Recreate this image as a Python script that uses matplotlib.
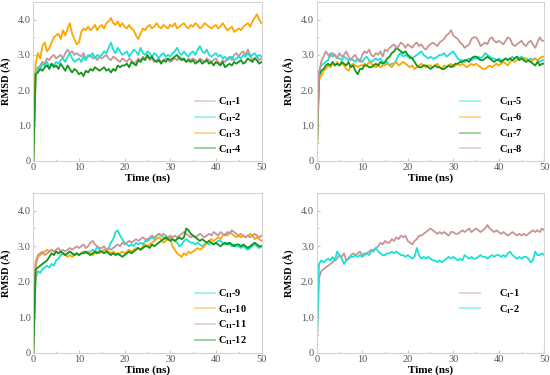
import numpy as np
import matplotlib
matplotlib.use("Agg")
import matplotlib.pyplot as plt

plt.rcParams["font.family"] = ["Liberation Serif", "DejaVu Serif"]
plt.rcParams["mathtext.fontset"] = "custom"
plt.rcParams["mathtext.rm"] = "Liberation Serif"
plt.rcParams["mathtext.bf"] = "Liberation Serif:bold"
plt.rcParams["mathtext.default"] = "bf"

time_ns = np.arange(0, 50.5, 0.5)

# ---- panel 1: C_II-1..4
c2_1 = [0, 2.45, 2.6, 2.7, 2.8, 2.75, 2.9, 2.85, 2.95, 3.0,
        2.9, 2.95, 3.0, 2.9, 3.05, 3.15, 3.05, 3.1, 3.0, 3.05,
        3.0, 2.95, 3.05, 2.9, 2.95, 3.0, 2.9, 2.95, 2.85, 2.95,
        2.9, 2.95, 3.0, 2.9, 2.85, 2.95, 2.9, 2.85, 2.8, 2.9,
        2.85, 2.8, 2.9, 2.85, 2.75, 2.8, 2.9, 2.85, 2.95, 2.9,
        2.95, 2.85, 2.9, 2.8, 2.85, 2.9, 2.8, 2.85, 2.9, 2.85,
        2.8, 2.85, 2.9, 2.85, 2.95, 2.9, 2.85, 2.8, 2.9, 2.85,
        2.9, 2.85, 2.8, 2.9, 2.85, 2.8, 2.9, 2.85, 2.8, 2.85,
        2.9, 2.8, 2.75, 2.85, 2.8, 2.9, 2.95, 2.85, 3.0, 3.05,
        2.95, 3.05, 3.1, 3.0, 3.15, 3.0, 2.85, 2.9, 2.95, 2.85,
        2.9]
c2_2 = [0, 2.5, 2.65, 2.6, 2.75, 2.7, 2.8, 2.65, 2.75, 2.7,
        2.8, 2.75, 2.85, 2.9, 2.8, 2.95, 3.05, 2.9, 2.8, 2.85,
        2.9, 2.8, 2.95, 2.85, 3.0, 2.95, 3.05, 2.9, 3.0, 2.95,
        3.0, 3.1, 3.05, 3.2, 3.35, 3.15, 3.05, 3.2, 3.1, 3.0,
        3.05, 3.1, 2.95, 3.05, 3.15, 3.1, 3.0, 3.2, 3.05, 3.0,
        3.1, 3.05, 2.95, 3.05, 3.0, 2.9, 3.0, 3.05, 2.95, 3.0,
        2.95, 3.05, 3.1, 3.2, 3.05, 3.0, 3.1, 3.0, 2.95, 3.05,
        3.1, 3.0, 3.15, 3.25, 3.1, 3.05, 3.15, 3.0, 2.95, 3.0,
        3.05, 2.95, 3.0, 2.9, 2.95, 2.85, 2.9, 2.95, 2.85, 2.9,
        2.95, 2.9, 3.0, 2.95, 3.05, 2.95, 3.0, 3.05, 2.95, 3.0,
        2.95]
c2_3 = [0, 2.75, 3.05, 2.9, 3.25, 3.35, 3.1, 3.2, 3.35, 3.5,
        3.55, 3.6, 3.45, 3.7, 3.55, 3.75, 3.9, 3.6, 3.45, 3.3,
        3.35, 3.65, 3.75, 3.7, 3.8, 3.7, 3.75, 3.85, 3.7, 3.8,
        3.85, 3.75, 3.9, 3.95, 4.05, 3.9, 3.85, 3.95, 3.8, 3.9,
        3.8, 3.75, 3.85, 3.75, 3.7, 3.55, 3.45, 3.6, 3.75, 3.7,
        3.8, 3.85, 3.75, 3.8, 3.9, 3.8, 3.75, 3.85, 3.8, 3.75,
        3.85, 3.8, 3.9, 3.75, 3.8, 3.85, 3.9, 3.8, 3.75, 3.85,
        3.8, 3.9, 3.85, 3.75, 3.8, 3.9, 3.85, 3.8, 3.75, 3.8,
        3.85, 3.75, 3.8, 3.9, 3.8, 3.7, 3.75, 3.8, 3.65, 3.7,
        3.75, 3.7, 3.8, 3.85, 3.9, 3.8, 3.95, 4.05, 4.15, 4.0,
        3.9]
c2_4 = [0, 2.45, 2.5, 2.6, 2.55, 2.65, 2.7, 2.6, 2.75, 2.65,
        2.7, 2.6, 2.75, 2.65, 2.55, 2.7, 2.6, 2.5, 2.6, 2.55,
        2.45, 2.5, 2.4, 2.55, 2.5, 2.6, 2.55, 2.65, 2.6, 2.55,
        2.6, 2.65, 2.55, 2.6, 2.5, 2.6, 2.55, 2.7, 2.65, 2.7,
        2.7, 2.75, 2.65, 2.8, 2.75, 2.7, 2.85, 2.8, 2.9, 2.85,
        3.0, 2.9, 2.95, 2.85, 2.8, 2.85, 2.75, 2.85, 2.8, 2.9,
        2.85, 2.9, 2.95, 3.0, 2.9, 2.85, 2.9, 2.8, 2.85, 2.8,
        2.85, 2.75, 2.8, 2.85, 2.75, 2.8, 2.85, 2.75, 2.8, 2.7,
        2.8, 2.75, 2.7, 2.8, 2.65, 2.7, 2.75, 2.7, 2.8, 2.75,
        2.8, 2.85, 2.75, 2.8, 2.9, 2.85, 2.8, 2.9, 2.85, 2.75,
        2.8]

# ---- panel 2: C_II-5..8
c2_5 = [0, 2.5, 2.7, 2.75, 2.8, 2.85, 3.05, 2.95, 3.0, 2.9,
        2.9, 2.85, 2.95, 2.9, 2.85, 2.9, 2.85, 2.8, 2.9, 2.85,
        2.8, 2.9, 2.95, 2.85, 2.8, 2.85, 2.9, 2.85, 2.9, 2.8,
        2.75, 2.8, 2.7, 2.75, 2.75, 2.85, 3.0, 3.05, 2.95, 3.0,
        2.95, 2.9, 2.9, 2.95, 3.0, 3.05, 3.1, 3.0, 2.95, 2.9,
        2.95, 2.9, 2.9, 2.95, 3.0, 3.0, 3.05, 2.95, 3.0, 3.05,
        3.1, 3.0, 2.9, 2.85, 2.85, 2.8, 2.85, 2.9, 2.85, 2.9,
        2.9, 2.95, 2.9, 2.95, 3.05, 3.0, 2.95, 2.9, 2.9, 2.85,
        2.9, 2.85, 2.85, 2.9, 2.85, 2.9, 2.95, 2.9, 2.95, 2.9,
        2.95, 2.9, 2.9, 2.85, 2.9, 2.85, 2.9, 2.85, 2.8, 2.85,
        2.85]
c2_6 = [0, 2.3, 2.4, 2.55, 2.6, 2.7, 2.65, 2.75, 2.7, 2.8,
        2.7, 2.75, 2.7, 2.6, 2.55, 2.7, 2.75, 2.7, 2.65, 2.7,
        2.7, 2.75, 2.7, 2.8, 2.75, 2.7, 2.65, 2.7, 2.65, 2.7,
        2.7, 2.75, 2.7, 2.65, 2.75, 2.8, 2.7, 2.75, 2.8, 2.75,
        2.7, 2.65, 2.7, 2.6, 2.65, 2.7, 2.75, 2.7, 2.65, 2.7,
        2.7, 2.65, 2.7, 2.75, 2.65, 2.6, 2.7, 2.65, 2.7, 2.75,
        2.65, 2.7, 2.75, 2.7, 2.75, 2.7, 2.65, 2.7, 2.75, 2.7,
        2.75, 2.7, 2.65, 2.6, 2.6, 2.65, 2.7, 2.65, 2.7, 2.75,
        2.7, 2.75, 2.8, 2.75, 2.7, 2.8, 2.85, 2.8, 2.85, 2.9,
        2.9, 2.85, 2.9, 2.85, 2.8, 2.85, 2.9, 2.85, 2.9, 2.95,
        2.95]
c2_7 = [0, 2.4, 2.55, 2.6, 2.7, 2.75, 2.7, 2.8, 2.7, 2.75,
        2.7, 2.8, 2.75, 2.7, 2.8, 2.65, 2.7, 2.55, 2.45, 2.6,
        2.6, 2.7, 2.7, 2.65, 2.65, 2.7, 2.75, 2.7, 2.8, 2.75,
        2.8, 2.9, 2.95, 3.05, 3.1, 3.2, 3.15, 3.1, 3.05, 3.1,
        3.0, 2.95, 2.9, 2.8, 2.7, 2.65, 2.65, 2.7, 2.7, 2.65,
        2.6, 2.65, 2.7, 2.65, 2.65, 2.6, 2.6, 2.65, 2.7, 2.65,
        2.7, 2.75, 2.75, 2.8, 2.8, 2.85, 2.85, 2.8, 2.9, 2.95,
        2.95, 2.9, 2.85, 2.85, 2.9, 2.95, 2.9, 2.85, 2.8, 2.85,
        2.85, 2.8, 2.85, 2.9, 2.85, 2.9, 2.85, 2.9, 2.95, 2.85,
        2.9, 2.85, 2.8, 2.85, 2.8, 2.75, 2.7, 2.8, 2.7, 2.75,
        2.75]
c2_8 = [0, 2.5, 2.8, 2.95, 3.1, 3.0, 2.95, 3.05, 3.0, 2.9,
        3.05, 2.95, 3.0, 3.1, 2.95, 2.85, 2.95, 3.0, 2.85, 2.8,
        3.0, 3.1, 3.05, 3.15, 3.0, 2.95, 3.05, 3.0, 3.1, 2.95,
        3.15, 3.1, 3.2, 3.25, 3.3, 3.2, 3.25, 3.35, 3.3, 3.2,
        3.3, 3.25, 3.2, 3.3, 3.35, 3.25, 3.3, 3.2, 3.15, 3.25,
        3.3, 3.35, 3.3, 3.25, 3.35, 3.4, 3.45, 3.55, 3.6, 3.7,
        3.55, 3.5, 3.45, 3.35, 3.3, 3.2, 3.25, 3.3, 3.45, 3.5,
        3.5, 3.4, 3.25, 3.3, 3.35, 3.3, 3.45, 3.5, 3.4, 3.35,
        3.4, 3.35, 3.3, 3.4, 3.5, 3.45, 3.3, 3.25, 3.3, 3.35,
        3.4, 3.3, 3.25, 3.35, 3.4, 3.3, 3.2, 3.35, 3.5, 3.4,
        3.4]

# ---- panel 3: C_II-9..12
c2_9 = [0, 2.1, 2.3, 2.25, 2.35, 2.4, 2.45, 2.4, 2.5, 2.45,
        2.6, 2.65, 2.75, 2.8, 2.75, 2.8, 2.85, 2.8, 2.75, 2.8,
        2.75, 2.8, 2.85, 2.8, 2.8, 2.85, 2.9, 2.85, 3.0, 2.9,
        2.85, 2.9, 2.85, 2.95, 3.1, 3.2, 3.4, 3.45, 3.3, 3.2,
        3.1, 3.05, 3.0, 3.05, 3.0, 3.1, 3.05, 3.1, 3.05, 3.15,
        3.15, 3.2, 3.25, 3.2, 3.3, 3.35, 3.3, 3.25, 3.2, 3.25,
        3.25, 3.2, 3.15, 3.1, 3.0, 3.05, 3.15, 3.2, 3.15, 3.1,
        3.1, 3.05, 3.1, 3.05, 3.0, 3.05, 3.1, 3.05, 3.1, 3.05,
        3.1, 3.15, 3.15, 3.1, 3.05, 3.1, 3.05, 3.0, 3.05, 3.0,
        3.0, 2.95, 3.0, 2.95, 2.9, 2.95, 3.0, 3.05, 3.0, 2.95,
        3.0]
c2_10 = [0, 2.45, 2.7, 2.75, 2.8, 2.85, 2.9, 2.85, 2.9, 2.85,
         2.85, 2.8, 2.85, 2.8, 2.75, 2.7, 2.75, 2.7, 2.75, 2.8,
         2.75, 2.8, 2.85, 2.8, 2.85, 2.8, 2.75, 2.8, 2.85, 2.8,
         2.85, 2.9, 2.9, 2.85, 2.8, 2.85, 2.8, 2.75, 2.8, 2.85,
         2.8, 2.85, 2.9, 2.85, 2.9, 2.95, 2.95, 2.9, 3.0, 3.05,
         3.0, 3.05, 3.1, 3.15, 3.2, 3.25, 3.2, 3.1, 3.15, 3.2,
         3.2, 3.0, 2.9, 2.8, 2.75, 2.7, 2.8, 2.75, 2.85, 2.8,
         2.85, 2.9, 2.95, 2.9, 2.95, 3.0, 3.1, 3.15, 3.2, 3.15,
         3.2, 3.25, 3.2, 3.3, 3.35, 3.3, 3.4, 3.35, 3.3, 3.25,
         3.3, 3.25, 3.3, 3.25, 3.3, 3.35, 3.3, 3.2, 3.25, 3.2,
         3.15]
c2_11 = [0, 2.55, 2.75, 2.8, 2.85, 2.75, 2.8, 2.85, 2.9, 2.85,
         2.9, 2.95, 2.85, 2.9, 2.85, 2.9, 2.95, 2.9, 2.95, 3.0,
         2.95, 3.0, 3.05, 2.95, 3.0, 3.1, 3.15, 3.05, 3.0, 2.95,
         2.95, 3.0, 2.9, 2.95, 2.9, 2.95, 3.0, 3.05, 3.0, 3.1,
         3.05, 3.1, 3.15, 3.1, 3.15, 3.2, 3.15, 3.2, 3.25, 3.2,
         3.2, 3.25, 3.3, 3.25, 3.3, 3.35, 3.3, 3.35, 3.3, 3.25,
         3.3, 3.25, 3.3, 3.25, 3.3, 3.35, 3.4, 3.35, 3.3, 3.25,
         3.3, 3.25, 3.3, 3.35, 3.3, 3.25, 3.3, 3.35, 3.3, 3.4,
         3.35, 3.3, 3.4, 3.35, 3.3, 3.4, 3.35, 3.45, 3.4, 3.35,
         3.3, 3.35, 3.3, 3.25, 3.3, 3.25, 3.3, 3.35, 3.3, 3.25,
         3.3]
c2_12 = [0, 2.35, 2.4, 2.45, 2.5, 2.55, 2.6, 2.7, 2.8, 2.75,
         2.85, 2.8, 2.85, 2.8, 2.75, 2.8, 2.85, 2.8, 2.75, 2.8,
         2.75, 2.8, 2.8, 2.85, 2.8, 2.75, 2.8, 2.85, 2.8, 2.85,
         2.85, 2.8, 2.85, 2.8, 2.75, 2.8, 2.75, 2.8, 2.75, 2.7,
         2.75, 2.8, 2.85, 2.8, 2.85, 2.9, 2.95, 2.9, 2.95, 3.0,
         3.0, 2.95, 3.05, 3.0, 3.05, 3.1, 3.15, 3.2, 3.25, 3.2,
         3.15, 3.2, 3.15, 3.2, 3.25, 3.2, 3.25, 3.5, 3.45, 3.35,
         3.3, 3.25, 3.2, 3.15, 3.2, 3.15, 3.1, 3.15, 3.1, 3.05,
         3.1, 3.05, 3.0, 3.05, 3.1, 3.05, 3.1, 3.05, 3.0, 3.05,
         3.05, 3.0, 3.05, 3.0, 2.95, 3.0, 3.05, 3.1, 3.05, 3.0,
         3.0]

# ---- panel 4: C_I-1..2
c1_1 = [0, 2.1, 2.3, 2.35, 2.4, 2.45, 2.5, 2.55, 2.6, 2.65,
        2.75, 2.7, 2.8, 2.6, 2.65, 2.75, 2.8, 2.75, 2.8, 2.85,
        2.75, 2.8, 2.8, 2.85, 2.9, 2.85, 2.95, 3.0, 3.1, 3.05,
        3.15, 3.1, 3.1, 3.2, 3.15, 3.25, 3.2, 3.3, 3.25, 3.3,
        3.15, 3.1, 3.05, 3.15, 3.2, 3.3, 3.3, 3.35, 3.4, 3.45,
        3.5, 3.45, 3.4, 3.35, 3.4, 3.35, 3.4, 3.35, 3.3, 3.4,
        3.4, 3.35, 3.35, 3.4, 3.45, 3.4, 3.45, 3.5, 3.4, 3.45,
        3.5, 3.45, 3.4, 3.45, 3.5, 3.6, 3.5, 3.45, 3.4, 3.45,
        3.4, 3.35, 3.4, 3.35, 3.3, 3.35, 3.4, 3.35, 3.3, 3.35,
        3.3, 3.35, 3.3, 3.35, 3.4, 3.45, 3.4, 3.45, 3.4, 3.5,
        3.45]
c1_2 = [0, 2.5, 2.6, 2.55, 2.6, 2.65, 2.6, 2.7, 2.6, 2.85,
        2.75, 2.65, 2.5, 2.6, 2.65, 2.7, 2.7, 2.75, 2.7, 2.75,
        2.7, 2.75, 2.8, 2.75, 2.85, 2.9, 2.95, 2.85, 2.8, 2.75,
        2.75, 2.8, 2.8, 2.85, 2.8, 2.85, 2.8, 2.75, 2.75, 2.7,
        2.75, 2.7, 2.65, 2.7, 2.95, 2.75, 2.65, 2.7, 2.65, 2.7,
        2.65, 2.6, 2.6, 2.55, 2.6, 2.55, 2.6, 2.65, 2.7, 2.65,
        2.7, 2.65, 2.6, 2.65, 2.6, 2.75, 2.7, 2.65, 2.7, 2.65,
        2.65, 2.7, 2.75, 2.7, 2.7, 2.65, 2.7, 2.75, 2.7, 2.75,
        2.75, 2.7, 2.75, 2.7, 2.8, 2.85, 2.75, 2.7, 2.65, 2.7,
        2.65, 2.7, 2.7, 2.65, 2.55, 2.6, 2.85, 2.75, 2.75, 2.8,
        2.75]

PINK = "#c79595"
CYAN = "#1de0d4"
ORANGE = "#ffa500"
GREEN = "#12961a"

panels = [
    ([(c2_1, PINK, r"C$_{II}$-1"), (c2_2, CYAN, r"C$_{II}$-2"),
      (c2_3, ORANGE, r"C$_{II}$-3"), (c2_4, GREEN, r"C$_{II}$-4")], 0.71, 1.9, 0.3),
    ([(c2_5, CYAN, r"C$_{II}$-5"), (c2_6, ORANGE, r"C$_{II}$-6"),
      (c2_7, GREEN, r"C$_{II}$-7"), (c2_8, PINK, r"C$_{II}$-8")], 0.63, 1.9, 1.8),
    ([(c2_9, CYAN, r"C$_{II}$-9"), (c2_10, ORANGE, r"C$_{II}$-10"),
      (c2_11, PINK, r"C$_{II}$-11"), (c2_12, GREEN, r"C$_{II}$-12")], 0.71, 1.9, 0.3),
    ([(c1_1, PINK, r"C$_{I}$-1"), (c1_2, CYAN, r"C$_{I}$-2")], 0.63, 1.9, 1.8),
]

boxes = [
    [0.0606, 0.5715, 0.4149, 0.4232],
    [0.5758, 0.5715, 0.4138, 0.4232],
    [0.0606, 0.0595, 0.4149, 0.4258],
    [0.5758, 0.0595, 0.4138, 0.4258],
]

fig = plt.figure(figsize=(5.5, 3.75), dpi=100)

for box, (series, lx, hl, pad) in zip(boxes, panels):
    ax = fig.add_axes(box)
    for vals, col, lab in series:
        ax.plot(time_ns, vals, color=col, lw=1.3, label=lab)
    ax.set_xlim(0, 50)
    ax.set_ylim(0, 4.5)
    ax.set_xticks([0, 10, 20, 30, 40, 50])
    ax.set_xticks([5, 15, 25, 35, 45], minor=True)
    ax.set_yticks([0, 1, 2, 3, 4])
    ax.set_yticklabels(["0", "1.0", "2.0", "3.0", "4.0"])
    ax.set_yticks([0.5, 1.5, 2.5, 3.5], minor=True)
    ax.tick_params(which="both", direction="in", color="#c8c8c8",
                   labelsize=7.5, labelcolor="#555555", pad=2)
    ax.tick_params(which="major", length=2.5)
    ax.tick_params(which="minor", length=1.5)
    for s in ax.spines.values():
        s.set_color("#d4d4d4")
        s.set_linewidth(0.8)
    ax.set_xlabel("Time (ns)", fontsize=8, fontweight="bold", labelpad=1)
    ax.set_ylabel("RMSD (Å)", fontsize=7.5, fontweight="bold", labelpad=4)
    leg = ax.legend(loc="upper left", bbox_to_anchor=(lx, 0.41), frameon=False,
                    handlelength=hl, handletextpad=pad,
                    labelspacing=0.32, borderpad=0, borderaxespad=0,
                    prop={"weight": "bold", "size": 7.5})
    for h in leg.get_lines():
        h.set_alpha(0.45)

fig.savefig("out.png", dpi=100)
